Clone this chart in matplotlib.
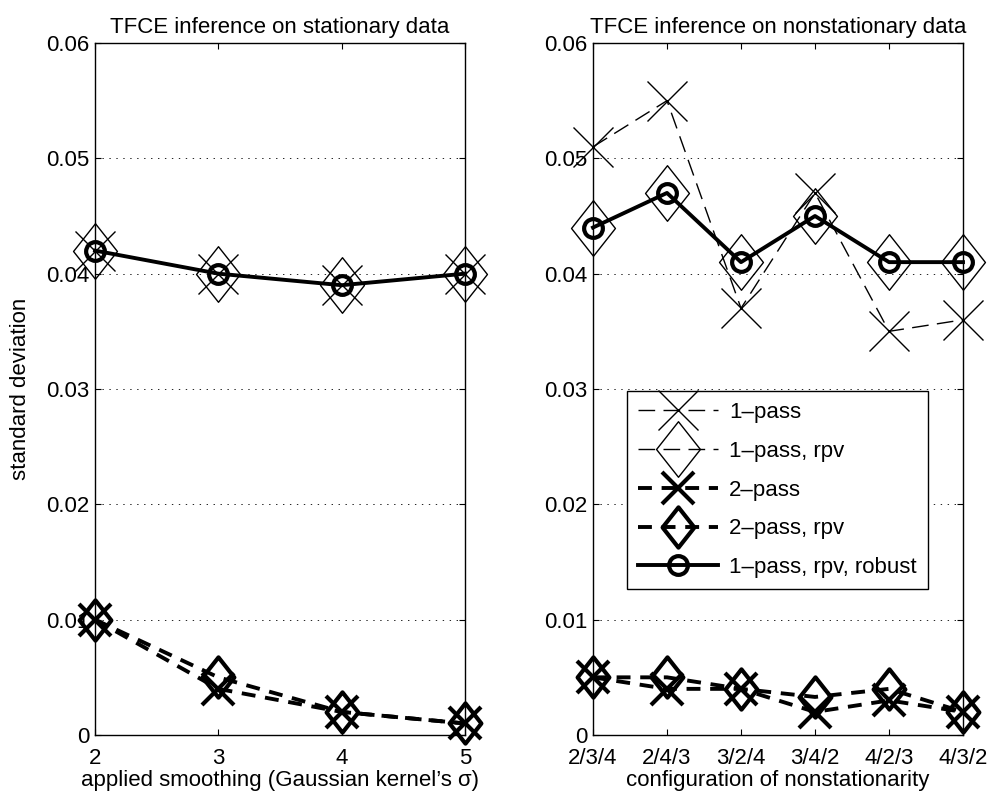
import matplotlib
matplotlib.use("Agg")
import numpy as np
from matplotlib import pyplot as plt
from matplotlib.path import Path

FS = 16
plt.rcParams["font.family"] = ["Liberation Sans", "DejaVu Sans"]
plt.rcParams["font.size"] = FS
plt.rcParams["lines.scale_dashes"] = False

# stationary data: applied smoothing (sigma)
smoothing = [2, 3, 4, 5]
stat_1pass = [0.042, 0.040, 0.039, 0.040]
stat_1pass_rpv = [0.042, 0.040, 0.039, 0.040]
stat_2pass = [0.010, 0.004, 0.002, 0.001]
stat_2pass_rpv = [0.010, 0.005, 0.002, 0.001]
stat_robust = [0.042, 0.040, 0.039, 0.040]

# nonstationary data: configurations
configs = ["2/3/4", "2/4/3", "3/2/4", "3/4/2", "4/2/3", "4/3/2"]
ns_1pass = [0.051, 0.055, 0.037, 0.047, 0.035, 0.036]
ns_1pass_rpv = [0.044, 0.047, 0.041, 0.045, 0.041, 0.041]
ns_2pass = [0.005, 0.004, 0.004, 0.002, 0.003, 0.002]
ns_2pass_rpv = [0.005, 0.005, 0.004, 0.0033, 0.004, 0.002]
ns_robust = [0.044, 0.047, 0.041, 0.045, 0.041, 0.041]

labels = ["1–pass", "1–pass, rpv", "2–pass", "2–pass, rpv", "1–pass, rpv, robust"]
yticks = [0, 0.01, 0.02, 0.03, 0.04, 0.05, 0.06]
ytick_labels = ["0", "0.01", "0.02", "0.03", "0.04", "0.05", "0.06"]

diamond = Path([(0, 1), (0.79, 0), (0, -1), (-0.79, 0), (0, 1)],
               [Path.MOVETO, Path.LINETO, Path.LINETO, Path.LINETO, Path.CLOSEPOLY])

styles = [
    dict(marker="x", ms=29, mew=1.0, lw=1.0, dashes=(12, 6)),
    dict(marker=diamond, ms=40, mew=1.0, lw=1.0, dashes=(12, 6)),
    dict(marker="x", ms=23, mew=3.0, lw=2.8, dashes=(10, 7)),
    dict(marker=diamond, ms=29, mew=3.0, lw=2.8, dashes=(10, 7)),
    dict(marker="o", ms=13.5, mew=3.0, lw=2.8, linestyle="-"),
]


def style_axes(ax):
    ax.set_ylim(0, 0.06)
    ax.set_yticks(yticks)
    ax.set_yticklabels(ytick_labels)
    ax.yaxis.grid(True, color="black", linestyle=(0, (1, 4)), linewidth=0.6)
    ax.set_axisbelow(True)
    ax.tick_params(direction="in", top=True, right=True, length=4, width=0.8,
                   labelsize=FS)
    ax.tick_params(axis="y", pad=4)
    ax.tick_params(axis="x", pad=9)
    for s in ax.spines.values():
        s.set_linewidth(1.0)


def draw(ax, x, series):
    lines = []
    for vals, st, lab in zip(series, styles, labels):
        st = dict(st)
        ms = st.pop("ms")
        mew = st.pop("mew")
        ln, = ax.plot(x, vals, color="black", mfc="none", mec="black",
                      markersize=ms, markeredgewidth=mew, clip_on=False,
                      label=lab, zorder=3, **st)
        lines.append(ln)
    return lines


fig = plt.figure(figsize=(9.92, 7.94), dpi=100)
ax1 = fig.add_axes([95 / 992, 59 / 794, 370 / 992, 692 / 794])
ax2 = fig.add_axes([593 / 992, 59 / 794, 370 / 992, 692 / 794])

draw(ax1, smoothing, [stat_1pass, stat_1pass_rpv, stat_2pass, stat_2pass_rpv, stat_robust])
style_axes(ax1)
ax1.set_xlim(2, 5)
ax1.set_xticks(smoothing)
ax1.set_title("TFCE inference on stationary data", fontsize=FS, pad=7)
ax1.set_xlabel("applied smoothing (Gaussian kernel’s σ)", fontsize=FS, labelpad=1)
ax1.set_ylabel("standard deviation", fontsize=FS, labelpad=11)

xpos = np.arange(1, len(configs) + 1)
handles = draw(ax2, xpos, [ns_1pass, ns_1pass_rpv, ns_2pass, ns_2pass_rpv, ns_robust])
style_axes(ax2)
ax2.set_xlim(1, 6)
ax2.set_xticks(xpos)
ax2.set_xticklabels(configs)
ax2.set_title("TFCE inference on nonstationary data", fontsize=FS, pad=7)
ax2.set_xlabel("configuration of nonstationarity", fontsize=FS, labelpad=1)

leg = ax2.legend(handles=handles, loc="upper left",
                 bbox_to_anchor=(627 / 992, 1 - 391 / 794),
                 bbox_transform=fig.transFigure, borderaxespad=0,
                 fancybox=False, edgecolor="black", framealpha=1,
                 handlelength=3.6, handletextpad=0.5, labelspacing=0.8,
                 borderpad=0.5, fontsize=FS)
leg.get_frame().set_linewidth(1.0)
leg.set_zorder(5)

fig.savefig("out.png", dpi=100)
